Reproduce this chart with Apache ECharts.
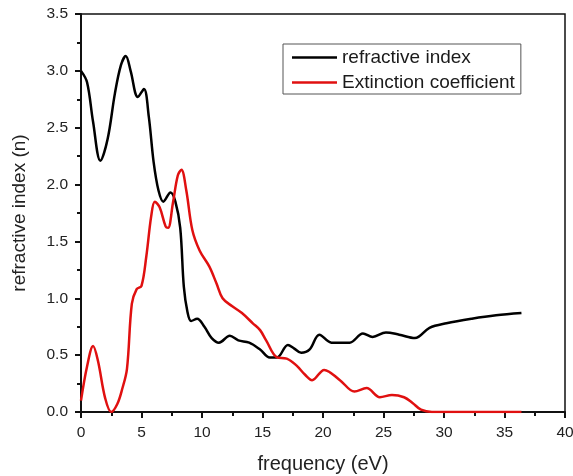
<!DOCTYPE html>
<html><head><meta charset="utf-8">
<script src="https://cdn.jsdelivr.net/npm/echarts@6/dist/echarts.min.js"></script>
<style>html,body{margin:0;padding:0;background:#fff}#c{width:573px;height:476px}</style>
</head><body><div id="c"></div>
<script>
const seriesNames = ['refractive index', 'Extinction coefficient'];
const xTickLabels = ['0','5','10','15','20','25','30','35','40'];
const yTickLabels = ['0.0','0.5','1.0','1.5','2.0','2.5','3.0','3.5'];
const refractiveIndex = [[0,3.0],[0.5,2.9],[1.0,2.55],[1.6,2.21],[2.2,2.4],[2.8,2.8],[3.3,3.05],[3.7,3.13],[4.1,3.0],[4.7,2.77],[5.2,2.84],[5.6,2.6],[6.0,2.2],[6.4,1.95],[6.8,1.85],[7.4,1.93],[7.8,1.85],[8.2,1.62],[8.5,1.1],[8.8,0.88],[9.1,0.80],[9.6,0.82],[10.2,0.75],[10.8,0.65],[11.4,0.61],[12.3,0.67],[13.0,0.63],[13.9,0.61],[14.8,0.55],[15.6,0.48],[16.2,0.48],[17.1,0.59],[17.6,0.56],[18.2,0.52],[18.9,0.55],[19.7,0.68],[20.7,0.61],[22.2,0.61],[23.3,0.69],[24.1,0.66],[25.2,0.70],[26.3,0.68],[27.6,0.65],[28.8,0.74],[30.2,0.78],[32.3,0.82],[34.3,0.85],[36.4,0.87]];
const extinctionCoeff = [[0,0.10],[0.5,0.4],[1.0,0.58],[1.4,0.45],[2.0,0.12],[2.5,0.0],[3.0,0.07],[3.4,0.2],[3.8,0.38],[4.2,0.95],[4.6,1.08],[5.0,1.11],[5.4,1.37],[5.8,1.72],[6.1,1.85],[6.5,1.80],[7.0,1.63],[7.2,1.62],[7.6,1.84],[8.0,2.08],[8.3,2.13],[8.7,1.95],[9.2,1.60],[9.8,1.42],[10.6,1.28],[11.2,1.13],[11.7,1.0],[12.5,0.93],[13.3,0.87],[14.2,0.78],[14.8,0.72],[15.3,0.63],[16.2,0.48],[17.0,0.47],[17.8,0.41],[18.5,0.33],[19.1,0.28],[20.1,0.37],[21.4,0.28],[22.6,0.18],[23.6,0.21],[24.7,0.13],[25.7,0.15],[26.7,0.13],[27.4,0.08],[28.1,0.02],[29,0],[36.4,0]];

const font = 'Liberation Sans, Arial, sans-serif';
const chart = echarts.init(document.getElementById('c'));
chart.setOption({
  animation: false,
  backgroundColor: '#fff',
  grid: {left: 81, right: 8, top: 14, bottom: 64, show: true, borderColor: '#111', borderWidth: 1.5,
         containLabel: false, outerBoundsMode: 'none'},
  legend: {
    orient: 'vertical', left: 283, top: 44,
    data: seriesNames.map(n => ({name: n, icon: 'rect'})),
    itemWidth: 45, itemHeight: 2.5, itemGap: 6,
    padding: [4, 6, 2, 9],
    borderColor: '#555', borderWidth: 1,
    textStyle: {fontFamily: font, fontSize: 19, lineHeight: 19, color: '#1a1a1a'}
  },
  xAxis: {
    type: 'value', min: 0, max: 40, interval: 5,
    name: 'frequency (eV)', nameLocation: 'middle', nameGap: 42,
    nameTextStyle: {fontFamily: font, fontSize: 20, color: '#222'},
    axisLine: {show: true, lineStyle: {color: '#111', width: 2}},
    axisTick: {show: true, inside: false, length: 6, lineStyle: {color: '#111', width: 2}},
    minorTick: {show: true, splitNumber: 2, length: 4, lineStyle: {color: '#111', width: 2}},
    splitLine: {show: false},
    axisLabel: {fontFamily: font, fontSize: 15.5, color: '#222', margin: 13,
      formatter: (v) => xTickLabels[Math.round(v / 5)]}
  },
  yAxis: {
    type: 'value', min: 0, max: 3.5, interval: 0.5,
    name: 'refractive index (n)', nameLocation: 'middle', nameGap: 52, nameRotate: 90,
    nameTextStyle: {fontFamily: font, fontSize: 19, color: '#222'},
    axisLine: {show: true, lineStyle: {color: '#111', width: 2}},
    axisTick: {show: true, inside: false, length: 6, lineStyle: {color: '#111', width: 2}},
    minorTick: {show: true, splitNumber: 2, length: 4, lineStyle: {color: '#111', width: 2}},
    splitLine: {show: false},
    axisLabel: {fontFamily: font, fontSize: 15.5, color: '#222', margin: 13,
      formatter: (v) => yTickLabels[Math.round(v / 0.5)]}
  },
  series: [
    {name: seriesNames[0], type: 'line', data: refractiveIndex, smooth: 0.35, showSymbol: false,
     lineStyle: {color: '#000', width: 2.5}, itemStyle: {color: '#000'}},
    {name: seriesNames[1], type: 'line', data: extinctionCoeff, smooth: 0.35, showSymbol: false,
     lineStyle: {color: '#e01010', width: 2.5}, itemStyle: {color: '#e01010'}}
  ]
});
</script></body></html>
